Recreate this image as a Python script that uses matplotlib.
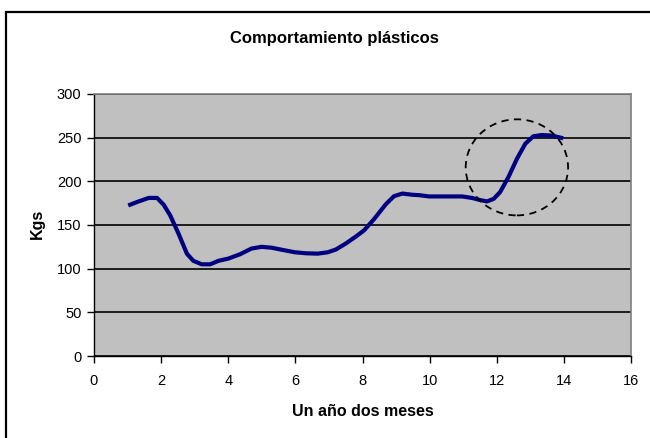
import numpy as np
import matplotlib
matplotlib.use('Agg')
import matplotlib.pyplot as plt
from matplotlib.patches import Ellipse, Rectangle

plt.rcParams['font.family'] = ['Liberation Sans', 'DejaVu Sans']

# curve (months, kg)
meses = [1.02, 1.33, 1.63, 1.88, 2.08, 2.27, 2.52, 2.77, 2.96, 3.21, 3.46, 3.71,
         4.0, 4.35, 4.69, 4.99, 5.29, 5.63, 5.98, 6.32, 6.67, 6.97, 7.21, 7.51,
         7.81, 8.05, 8.35, 8.7, 8.94, 9.19, 9.49, 9.68, 9.98, 10.47, 10.97, 11.26,
         11.51, 11.71, 11.91, 12.1, 12.35, 12.6, 12.85, 13.09, 13.34, 13.64, 13.98]
kgs = [172.4, 177, 181, 181, 173, 161, 140, 117, 109, 105, 105, 109,
       111.5, 116.5, 123, 125, 124, 121.4, 118.8, 117.6, 117.2, 118.8, 122, 129,
       137, 144, 157, 174, 183, 186, 184.6, 184.2, 182.7, 182.7, 182.7, 181,
       178.5, 177, 180, 187.7, 205, 225.7, 243, 251.6, 253, 252.4, 249.3]

x_ticks = [0, 2, 4, 6, 8, 10, 12, 14, 16]
y_ticks = [0, 50, 100, 150, 200, 250, 300]

# dashed circle marking the jump
circ_center = (12.6, 216)
circ_w = 3.05
circ_h = 110

W, H = 650, 438
fig = plt.figure(figsize=(6.5, 4.38), dpi=100)
ax = fig.add_axes([94 / W, 1 - 356 / H, (631 - 94) / W, (356 - 94) / H])

# outer chart border (runs off the right and bottom edges)
fig.patches.append(Rectangle((5.5 / W, -0.05), 1.0, 1 - 12 / H + 0.05,
                             transform=fig.transFigure, fill=False,
                             edgecolor='black', linewidth=1.6))

ax.set_facecolor('#C0C0C0')
ax.plot(meses, kgs, color='#000080', linewidth=3.0, solid_capstyle='butt', zorder=3)
ax.add_patch(Ellipse(circ_center, circ_w, circ_h, fill=False, edgecolor='black',
                     linestyle=(0, (4, 3)), linewidth=1.3, zorder=4))

ax.set_xlim(0, 16)
ax.set_ylim(0, 300)
ax.set_xticks(x_ticks)
ax.set_yticks(y_ticks)
ax.yaxis.grid(True, color='black', linewidth=1.2)
ax.set_axisbelow(True)

for s in ['top', 'right']:
    ax.spines[s].set_color('#808080')
    ax.spines[s].set_linewidth(1.2)
for s in ['left', 'bottom']:
    ax.spines[s].set_color('black')
    ax.spines[s].set_linewidth(1.0)

ax.tick_params(direction='out', length=5, width=1, labelsize=10.5)
ax.tick_params(axis='y', pad=4)
ax.tick_params(axis='x', pad=8)

fig.text(334 / W, 1 - 38 / H, 'Comportamiento plásticos', fontsize=12,
         fontweight='bold', ha='center', va='center')
fig.text(362.5 / W, 1 - 411 / H, 'Un año dos meses', fontsize=11.5,
         fontweight='bold', ha='center', va='center')
fig.text(37.5 / W, 1 - 224 / H, 'Kgs', fontsize=11.5, fontweight='bold',
         ha='center', va='center', rotation=90)

fig.savefig('out.png', dpi=100)
